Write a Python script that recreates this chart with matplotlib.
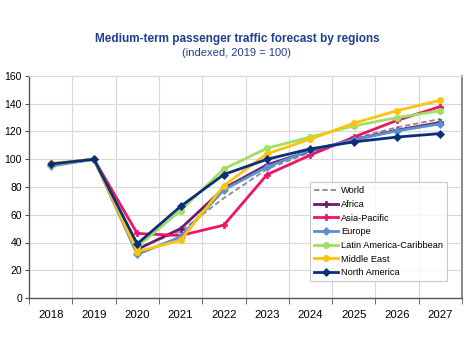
import matplotlib
matplotlib.use("Agg")
import matplotlib.pyplot as plt
import numpy as np

plt.rcParams['font.family'] = ['Liberation Sans Narrow', 'Liberation Sans', 'DejaVu Sans']

years = ["2018", "2019", "2020", "2021", "2022", "2023", "2024", "2025", "2026", "2027"]
world = [96, 100, 36, 48, 72, 93, 105, 115, 123, 129]
africa = [96, 100, 35, 50, 79, 96, 106, 114, 121, 126.5]
asia_pacific = [96, 100, 46.5, 45, 52.5, 89, 103, 116, 128, 138]
europe = [95, 100, 31.5, 44, 78, 94.5, 106.5, 114, 120.5, 125.5]
latin_america = [96, 100, 37, 63, 93, 108, 116, 124, 130, 135]
middle_east = [97, 100, 33.5, 41.5, 81, 104, 114.5, 126, 135, 142.5]
north_america = [96.5, 100, 39, 66, 89, 100, 107.5, 112.5, 116, 118.5]
y_ticks = [0, 20, 40, 60, 80, 100, 120, 140, 160]

series = [
    ("World", world, "#8a8a8a", "--", None),
    ("Africa", africa, "#6a1b6e", "-", "P"),
    ("Asia-Pacific", asia_pacific, "#ec1566", "-", "P"),
    ("Europe", europe, "#5b8fd0", "-", "D"),
    ("Latin America-Caribbean", latin_america, "#9fe060", "-", "o"),
    ("Middle East", middle_east, "#ffc20e", "-", "o"),
    ("North America", north_america, "#0a2f7a", "-", "D"),
]

fig = plt.figure(figsize=(4.74, 3.46), dpi=100)
ax = fig.add_axes([29/474, 48/346, 433/474, 222/346])

x = np.arange(len(years))
for name, vals, col, ls, mk in series:
    if mk is None:
        ax.plot(x, vals, color=col, ls=ls, lw=1.3, label=name, dashes=(3, 1.6))
    else:
        ax.plot(x, vals, color=col, ls=ls, lw=2.0, marker=mk, ms=4.5,
                markeredgewidth=0.5, label=name)

ax.set_xlim(-0.5, len(years) - 0.5)
ax.set_ylim(0, 160)
ax.set_yticks(y_ticks)
ax.set_yticklabels([str(v) for v in y_ticks], fontsize=7.5)
ax.set_xticks(x)
ax.set_xticklabels(years, fontsize=8.2)
ax.set_xticks(np.arange(-0.5, len(years), 1), minor=True)
ax.tick_params(axis='x', which='major', length=0, pad=9)
ax.tick_params(axis='x', which='minor', length=4, color='#555555', direction='out')
ax.tick_params(axis='y', length=3, color='#555555', pad=2)

ax.grid(False)
for yv in y_ticks[1:]:
    ax.axhline(yv, color='#d8d8d8', lw=0.8, zorder=0)
for xv in np.arange(0.5, len(years) - 0.5, 1):
    ax.axvline(xv, color='#d8d8d8', lw=0.8, zorder=0)

for s in ['left', 'bottom']:
    ax.spines[s].set_color('#555555')
    ax.spines[s].set_linewidth(1.0)
ax.spines['right'].set_color('#777777')
ax.spines['right'].set_linewidth(1.2)
ax.spines['top'].set_color('#d8d8d8')
ax.spines['top'].set_linewidth(0.8)

leg = ax.legend(loc='lower right', bbox_to_anchor=(0.966, 0.075), fontsize=6.7,
                frameon=True, fancybox=False, edgecolor='#bbbbbb',
                handlelength=2.6, handletextpad=0.3, labelspacing=0.5,
                borderpad=0.45, borderaxespad=0)
leg.get_frame().set_linewidth(0.8)

fig.text(0.5, 0.888, "Medium-term passenger traffic forecast by regions",
         ha='center', va='center', fontsize=8.5, fontweight='bold', color='#1f3f8f')
fig.text(0.5, 0.848, "(indexed, 2019 = 100)", ha='center', va='center',
         fontsize=8, color='#1f3f8f')

fig.savefig("out.png", dpi=100)
